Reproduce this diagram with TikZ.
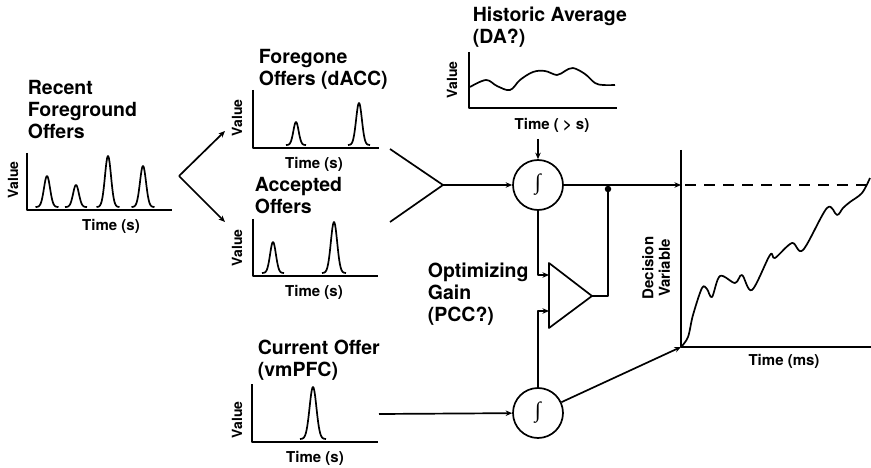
\documentclass[tikz,border=0pt]{standalone}
\usepackage{fontspec}
\setmainfont{TeX Gyre Heros}
\newfontfamily\intfont{Liberation Serif}
\usetikzlibrary{arrows.meta}
% Gaussian bump: centre x, base y, height, half width
\newcommand{\gpeak}[4]{%
  \draw plot[domain=-#4:#4, samples=45, smooth]
    ({#1+\x},{#2-#3*exp(-((\x)*(\x))/((#4)*(#4)/7.2))});}
\begin{document}
\begin{tikzpicture}[x=1pt,y=-1pt,
  line width=1.7pt, line join=round, line cap=butt,
  ttl/.style={font=\fontsize{19.5}{22}\selectfont\bfseries, align=left, inner sep=0pt},
  axl/.style={font=\fontsize{15}{16.5}\selectfont\bfseries, inner sep=0pt, align=center},
  vlab/.style={font=\fontsize{14}{16}\selectfont\bfseries, inner sep=0pt, rotate=90},
  dvl/.style={axl, rotate=90},
  arr/.style={-{Stealth[length=6.5pt,width=5.5pt]}},
  integ/.style={circle, draw, minimum size=50pt, inner sep=0pt, line width=1.7pt,
    font=\intfont\fontsize{22}{22}\selectfont},
  dot/.style={circle, fill, inner sep=0pt, minimum size=6.5pt}]
\useasboundingbox (0,0) rectangle (871,468);

% ---------- Recent foreground offers ----------
\node[ttl, anchor=west] (recT) at (27,110) {Recent\\Foreground\\Offers};
\draw (27,153) -- (27,210) -- (172,210);
\gpeak{47}{207}{31}{11.5}
\gpeak{76}{207}{22}{11}
\gpeak{108}{207}{51}{11.5}
\gpeak{143}{207}{41}{11.5}
\node[vlab] (recV) at (13,180) {Value};
\node[axl] (recX) at (111,226) {Time (s)};

% ---------- Foregone offers ----------
\node[ttl, anchor=west] (fgT) at (258,69) {Foregone\\Offers (dACC)};
\draw (253,90) -- (253,148) -- (379,148);
\gpeak{296}{145}{23}{10}
\gpeak{359}{145}{42}{11}
\node[vlab] (fgV) at (237,118) {Value};
\node[axl] (fgX) at (314,164) {Time (s)};

% ---------- Accepted offers ----------
\node[ttl, anchor=west] (acT) at (254,196) {Accepted\\Offers};
\draw (253,219) -- (253,276) -- (378,276);
\gpeak{273}{273}{31}{11}
\gpeak{334}{273}{51}{12}
\node[vlab] (acV) at (237,248) {Value};
\node[axl] (acX) at (314,292) {Time (s)};

% ---------- Historic average ----------
\node[ttl, anchor=west] (hiT) at (472,27) {Historic Average\\(DA?)};
\draw (469,52) -- (469,108) -- (617,108);
\draw plot[smooth, tension=0.6] coordinates {(470,87) (486,80) (497,86) (510,90)
  (520,80) (533,72) (545,71) (557,75) (565,71) (573,68) (585,74) (595,83) (603,85) (615,85)};
\node[vlab] (hiV) at (452,80) {Value};
\node[axl] (hiX) at (552,125) {Time ( > s)};

% ---------- Current offer ----------
\node[ttl, anchor=west] (cuT) at (257,360) {Current Offer\\(vmPFC)};
\draw (252,384) -- (252,442) -- (378,442);
\gpeak{313}{439}{52}{13}
\node[vlab] (cuV) at (237,420) {Value};
\node[axl] (cuX) at (315,458) {Time (s)};

% ---------- Optimizing gain ----------
\node[ttl, anchor=west] (ogT) at (427,294) {Optimizing\\Gain\\(PCC?)};
\coordinate (ampA) at (549,263);
\coordinate (ampB) at (549,328);
\coordinate (ampTip) at (592,296);
\draw (ampA) -- (ampTip) -- (ampB) -- cycle;
\coordinate (ampIn1) at (549,275);
\coordinate (ampIn2) at (549,311);

% ---------- Integrators ----------
\node[integ] (int1) at (538,185) {∫};
\node[integ] (int2) at (538,413) {∫};

% ---------- Decision variable ----------
\coordinate (dvO) at (681,347);
\coordinate (dvTop) at (681,185);
\draw (681,150) -- (dvO) -- (871,347);
\draw[dash pattern=on 11pt off 8pt] (685,185) -- (871,185);
\draw plot[smooth, tension=0.55] coordinates {(681,347) (688,337) (693,315) (702,288)
  (707,289) (712,297) (720,276) (735,283) (742,275) (752,290) (770,255) (775,258)
  (792,243) (803,250) (827,208) (837,215) (843,208) (850,202) (862,193) (870,178)};
\node[dvl] (dvV) at (656,268) {Decision\\Variable};
\node[axl] (dvX) at (784,361) {Time (ms)};

% ---------- Connectors ----------
\coordinate (split) at (179,176);
\coordinate (fgIn) at (225,131);
\coordinate (acIn) at (225,222);
\draw[arr] (split) -- (fgIn);
\draw[arr] (split) -- (acIn);

\coordinate (fgOut) at (390,149);
\coordinate (acOut) at (390,222);
\coordinate (merge) at (443,185);
\draw (fgOut) -- (merge) -- (acOut);
\draw[arr] (merge) -- (int1);

\coordinate (hiOut) at (538,139);
\draw[arr] (hiOut) -- (int1);

\draw[arr] (int1) -- (dvTop);
\coordinate (fbDot) at (608,189);
\node[dot] (fbN) at (fbDot) {};
\draw (ampTip) -| (fbDot);

\draw[arr] (int1.south) |- (ampIn1);
\draw[arr] (int2.north) |- (ampIn2);

\coordinate (cuOut) at (379,414);
\draw[arr] (cuOut) -- (int2);
\draw[arr] (int2) -- (dvO);
\end{tikzpicture}
\end{document}
